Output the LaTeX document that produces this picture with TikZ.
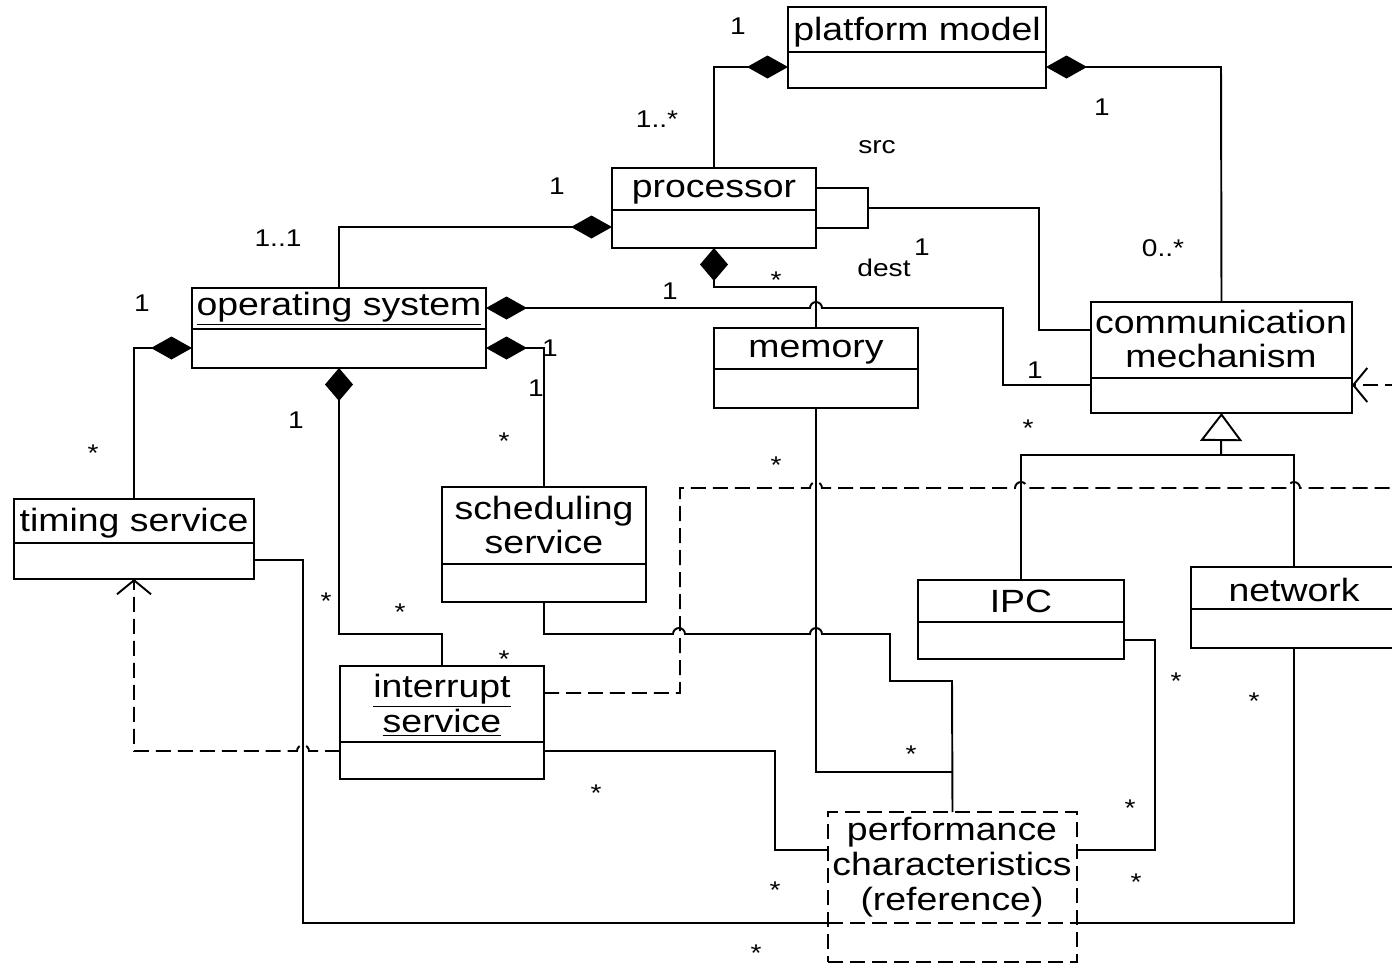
\documentclass[tikz,border=0pt]{standalone}
\usepackage{fontspec}
\setmainfont{Liberation Sans}
\usepackage{graphicx}
\usetikzlibrary{arrows.meta,fit}
% narrow the glyphs vertically
\newcommand\sq[1]{\scalebox{1}[0.86]{#1}}
\begin{document}
\begin{tikzpicture}[x=0.02cm,y=-0.02cm,line width=1.1pt,
  cls/.style={draw,inner sep=0pt,outer sep=0pt},
  ttl/.style={font=\fontsize{21.3}{19.9}\selectfont,align=center,inner sep=0pt},
  mult/.style={font=\fontsize{16}{16}\selectfont,inner sep=0pt},
  star/.style={mult,yshift=-3pt},
  dsh/.style={dash pattern=on 0.3cm off 0.14cm},
  comph/.style={{Diamond[length=0.82cm,width=0.46cm]}-},
  compv/.style={{Diamond[length=0.66cm,width=0.56cm]}-},
  dep/.style={dsh,-{Straight Barb[length=0.28cm,width=0.68cm]}},
  gen/.style={-{Triangle[open,length=0.56cm,width=0.84cm]}},
]
\useasboundingbox (0,0) rectangle (1392,964);
\clip (0,0) rectangle (1392,964);

% ---------- classes ----------
\node[cls,fit={(788,7) (1046,88)}] (plat) {};
\draw (plat.west|-0,52) -- (plat.east|-0,52);
\node[ttl] (plat-t) at (917,32) {\sq{platform model}};

\node[cls,fit={(612,168) (816,248)}] (proc) {};
\draw (proc.west|-0,210) -- (proc.east|-0,210);
\node[ttl] (proc-t) at (714,192) {\sq{processor}};

\node[cls,fit={(192,288) (486,368)}] (os) {};
\draw (os.west|-0,329) -- (os.east|-0,329);
\node[ttl] (os-t) at (339,309) {\sq{\underline{operating system}}};

\node[cls,fit={(714,328) (918,408)}] (mem) {};
\draw (mem.west|-0,369) -- (mem.east|-0,369);
\node[ttl] (mem-t) at (816,352) {\sq{memory}};

\node[cls,fit={(1091,302) (1352,413)}] (comm) {};
\draw (comm.west|-0,378) -- (comm.east|-0,378);
\node[ttl] (comm-t) at (1221,339) {\sq{communication}\\\sq{mechanism}};

\node[cls,fit={(14,499) (254,579)}] (tim) {};
\draw (tim.west|-0,543) -- (tim.east|-0,543);
\node[ttl] (tim-t) at (134,523) {\sq{timing service}};

\node[cls,fit={(442,487) (646,602)}] (sch) {};
\draw (sch.west|-0,564) -- (sch.east|-0,564);
\node[ttl] (sch-t) at (544,525) {\sq{scheduling}\\\sq{service}};

\node[cls,fit={(340,666) (544,779)}] (intr) {};
\draw (intr.west|-0,742) -- (intr.east|-0,742);
\node[ttl] (intr-t) at (442,705) {\sq{\underline{interrupt}}\\\sq{\underline{service}}};

\node[cls,fit={(918,580) (1124,659)}] (ipc) {};
\draw (ipc.west|-0,622) -- (ipc.east|-0,622);
\node[ttl] (ipc-t) at (1021,601) {\sq{IPC}};

\node[cls,fit={(1191,567) (1397,648)}] (net) {};
\draw (net.west|-0,609) -- (net.east|-0,609);
\node[ttl] (net-t) at (1294,590) {\sq{network}};

\node[cls,dsh,fit={(828,812) (1077,962)}] (perf) {};
\draw[dsh] (perf.west|-0,923) -- (perf.east|-0,923);
\node[ttl] (perf-t) at (952,867) {\sq{performance}\\\sq{characteristics}\\\sq{(reference)}};

% ---------- compositions ----------
\draw[comph] (plat.west|-0,67) -- (714,67) -- (proc.north);
\draw[comph] (plat.east|-0,67) -- (1221,67) -- (comm.north);
\draw[comph] (proc.west|-0,227) -- (339,227) -- (os.north);
\draw[compv] (proc.south) -- (714,287) -- (816,287) -- (mem.north);
\draw[comph] (os.east|-0,308) -- (810,308) arc[start angle=180,end angle=0,radius=0.12cm]
  -- (1003,308) -- (1003,385) -- (comm.west|-0,385);
\draw[comph] (os.east|-0,348) -- (544,348) -- (sch.north);
\draw[comph] (os.west|-0,348) -- (134,348) -- (tim.north);
\draw[compv] (os.south) -- (339,634) -- (442,634) -- (intr.north);

% ---------- src / dest ----------
\draw (proc.east|-0,188) -- (868,188) -- (868,228) -- (proc.east|-0,228);
\draw (868,208) -- (1039,208) -- (1039,330) -- (comm.west|-0,330);

% ---------- generalization ----------
\draw[gen] (1221,455) -- (comm.south);
\draw (ipc.north) -- (1021,455) -- (1294,455) -- (net.north);

% ---------- associations to performance characteristics ----------
\draw (sch.south) -- (544,634) -- (673,634) arc[start angle=180,end angle=0,radius=0.12cm]
  -- (810,634) arc[start angle=180,end angle=0,radius=0.12cm]
  -- (890,634) -- (890,681) -- (952,681) -- (perf.north);
\draw (mem.south) -- (816,772) -- (perf.north|-0,772);
\draw (intr.east|-0,751) -- (775,751) -- (775,850) -- (perf.west|-0,850);
\draw (ipc.east|-0,640) -- (1155,640) -- (1155,850) -- (perf.east|-0,850);
\draw (tim.east|-0,560) -- (303,560) -- (303,923) -- (perf.west|-0,923);
\draw (net.south) -- (1294,923) -- (perf.east|-0,923);

% ---------- dependencies ----------
\coordinate (eR1) at (1400,488);
\coordinate (eR2) at (1400,385);
\draw[dsh] (intr.east|-0,693) -- (680,693) -- (680,488)
  -- (810,488) arc[start angle=180,end angle=0,radius=0.12cm]
  -- (1015,488) arc[start angle=180,end angle=0,radius=0.12cm]
  -- (1288,488) arc[start angle=180,end angle=0,radius=0.12cm]
  -- (eR1);
\draw[dep] (eR2) -- (comm.east|-0,385);
\draw[dep] (intr.west|-0,751) -- (309,751) arc[start angle=0,end angle=180,radius=0.12cm]
  -- (134,751) -- (tim.south);

% ---------- multiplicities and role names ----------
\node[mult] (l1) at (738,26) {\sq{1}};
\node[mult] (l2) at (657,119) {\sq{1..*}};
\node[mult] (l3) at (1102,107) {\sq{1}};
\node[mult] (l4) at (877,147) {\sq{src}};
\node[mult] (l5) at (1163,248) {\sq{0..*}};
\node[mult] (l6) at (557,186) {\sq{1}};
\node[mult] (l7) at (278,238) {\sq{1..1}};
\node[mult] (l8) at (884,268) {\sq{dest}};
\node[mult] (l9) at (922,247) {\sq{1}};
\node[star] (l10) at (776,275) {\sq{*}};
\node[mult] (l11) at (670,291) {\sq{1}};
\node[mult] (l12) at (142,303) {\sq{1}};
\node[mult] (l13) at (550,348) {\sq{1}};
\node[mult] (l14) at (536,388) {\sq{1}};
\node[mult] (l15) at (1035,370) {\sq{1}};
\node[mult] (l16) at (296,420) {\sq{1}};
\node[star] (l17) at (504,436) {\sq{*}};
\node[star] (l18) at (93,448) {\sq{*}};
\node[star] (l19) at (1028,423) {\sq{*}};
\node[star] (l20) at (776,460) {\sq{*}};
\node[star] (l21) at (326,596) {\sq{*}};
\node[star] (l22) at (400,607) {\sq{*}};
\node[star] (l23) at (504,654) {\sq{*}};
\node[star] (l24) at (1176,676) {\sq{*}};
\node[star] (l25) at (1254,696) {\sq{*}};
\node[star] (l26) at (911,749) {\sq{*}};
\node[star] (l27) at (596,788) {\sq{*}};
\node[star] (l28) at (1130,803) {\sq{*}};
\node[star] (l29) at (775,885) {\sq{*}};
\node[star] (l30) at (1136,877) {\sq{*}};
\node[star] (l31) at (756,948) {\sq{*}};
\end{tikzpicture}
\end{document}
